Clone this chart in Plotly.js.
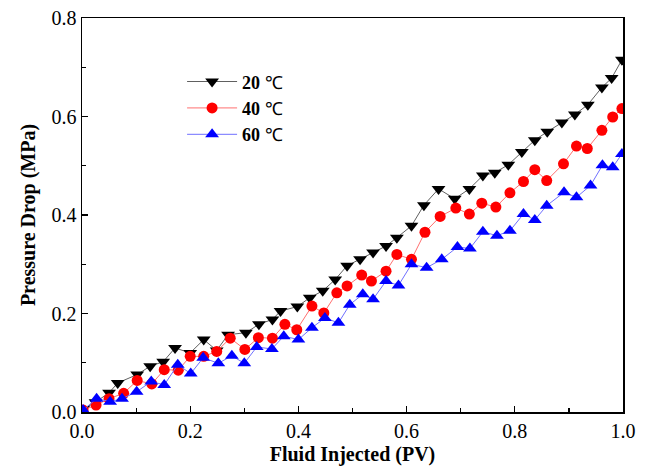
<!DOCTYPE html>
<html>
<head>
<meta charset="utf-8">
<script src="https://cdn.plot.ly/plotly-3.0.1.min.js"></script>
<style>html,body{margin:0;padding:0;background:#fff;}#chart{width:646px;height:469px;}</style>
</head>
<body>
<div id="chart"></div>
<script>
// Fluid injected (PV) and pressure drop (MPa) for each temperature
const x20 = [0.002,0.025,0.05,0.066,0.102,0.126,0.150,0.172,0.200,0.225,0.249,0.270,0.303,0.327,0.352,0.367,0.398,0.421,0.445,0.468,0.490,0.514,0.538,0.562,0.582,0.609,0.632,0.659,0.689,0.716,0.741,0.763,0.788,0.813,0.837,0.860,0.887,0.911,0.935,0.961,0.979,0.998];
const y20 = [0.006,0.020,0.039,0.059,0.076,0.093,0.102,0.130,0.120,0.147,0.125,0.157,0.161,0.178,0.188,0.205,0.214,0.232,0.246,0.269,0.297,0.310,0.324,0.337,0.354,0.378,0.420,0.453,0.433,0.453,0.480,0.486,0.502,0.528,0.552,0.569,0.588,0.604,0.624,0.659,0.678,0.715];

const x40 = [0.002,0.026,0.050,0.077,0.102,0.129,0.152,0.178,0.200,0.225,0.249,0.274,0.301,0.326,0.352,0.375,0.397,0.425,0.447,0.471,0.490,0.517,0.535,0.562,0.582,0.609,0.634,0.662,0.691,0.716,0.739,0.765,0.791,0.816,0.837,0.859,0.890,0.914,0.934,0.961,0.981,0.998];
const y40 = [0.004,0.014,0.027,0.038,0.064,0.057,0.086,0.085,0.113,0.113,0.123,0.150,0.127,0.151,0.150,0.178,0.167,0.215,0.201,0.242,0.256,0.278,0.266,0.286,0.320,0.310,0.365,0.397,0.414,0.402,0.424,0.416,0.445,0.468,0.492,0.470,0.504,0.540,0.535,0.572,0.599,0.616];

const x60 = [0.002,0.027,0.052,0.074,0.101,0.128,0.152,0.177,0.201,0.224,0.252,0.277,0.300,0.323,0.351,0.373,0.400,0.425,0.449,0.474,0.495,0.519,0.538,0.562,0.585,0.609,0.637,0.665,0.694,0.717,0.741,0.767,0.791,0.816,0.837,0.859,0.891,0.914,0.940,0.962,0.981,0.998];
const y60 = [0.004,0.027,0.021,0.027,0.041,0.062,0.055,0.096,0.078,0.110,0.099,0.114,0.099,0.132,0.128,0.154,0.147,0.171,0.191,0.181,0.218,0.239,0.229,0.266,0.257,0.300,0.293,0.310,0.335,0.332,0.366,0.358,0.368,0.402,0.390,0.419,0.446,0.436,0.460,0.501,0.497,0.524];

const seriesNames = ['<b>20</b> ℃','<b>40</b> ℃','<b>60</b> ℃'];
const xTickVals = [0,0.2,0.4,0.6,0.8,1.0];
const yTickVals = [0,0.2,0.4,0.6,0.8];

const font = 'Liberation Serif, Times New Roman, serif';

const traces = [
  {x:x20,y:y20,name:seriesNames[0],mode:'lines+markers',
   line:{color:'#606060',width:1},
   marker:{symbol:'triangle-down',size:12,color:'#000000'}},
  {x:x40,y:y40,name:seriesNames[1],mode:'lines+markers',
   line:{color:'#ff7070',width:1},
   marker:{symbol:'circle',size:11,color:'#ff0000'}},
  {x:x60,y:y60,name:seriesNames[2],mode:'lines+markers',
   line:{color:'#7070ff',width:1},
   marker:{symbol:'triangle-up',size:12,color:'#0000ff'}}
];

const axisCommon = {
  showgrid:false, zeroline:false, showline:true, linecolor:'#000', linewidth:1.5,
  mirror:true, ticks:'inside', ticklen:6, tickwidth:1.2, tickcolor:'#000',
  tickformat:'.1f', tickfont:{family:font,size:20,color:'#000'},
  minor:{ticks:'inside',ticklen:4,tickwidth:1.2,tickcolor:'#000'}
};

const layout = {
  width:646,height:469,
  margin:{l:82,r:23,t:18,b:57},
  paper_bgcolor:'#fff',plot_bgcolor:'#fff',
  showlegend:true,
  legend:{x:0.185,y:0.885,xanchor:'left',yanchor:'top',bgcolor:'rgba(0,0,0,0)',
    font:{family:font,size:18,color:'#000'},tracegroupgap:0,itemwidth:50},
  xaxis:Object.assign({},axisCommon,{range:[0,1],tickvals:xTickVals,
    minor:Object.assign({},axisCommon.minor,{dtick:0.1,tick0:0}),
    title:{text:'<b>Fluid Injected (PV)</b>',font:{family:font,size:20,color:'#000'},standoff:6}}),
  yaxis:Object.assign({},axisCommon,{range:[0,0.8],tickvals:yTickVals,
    minor:Object.assign({},axisCommon.minor,{dtick:0.1,tick0:0}),
    title:{text:'<b>Pressure Drop (MPa)</b>',font:{family:font,size:20,color:'#000'},standoff:10}})
};

Plotly.newPlot('chart',traces,layout,{staticPlot:true,displayModeBar:false});
</script>
</body>
</html>
